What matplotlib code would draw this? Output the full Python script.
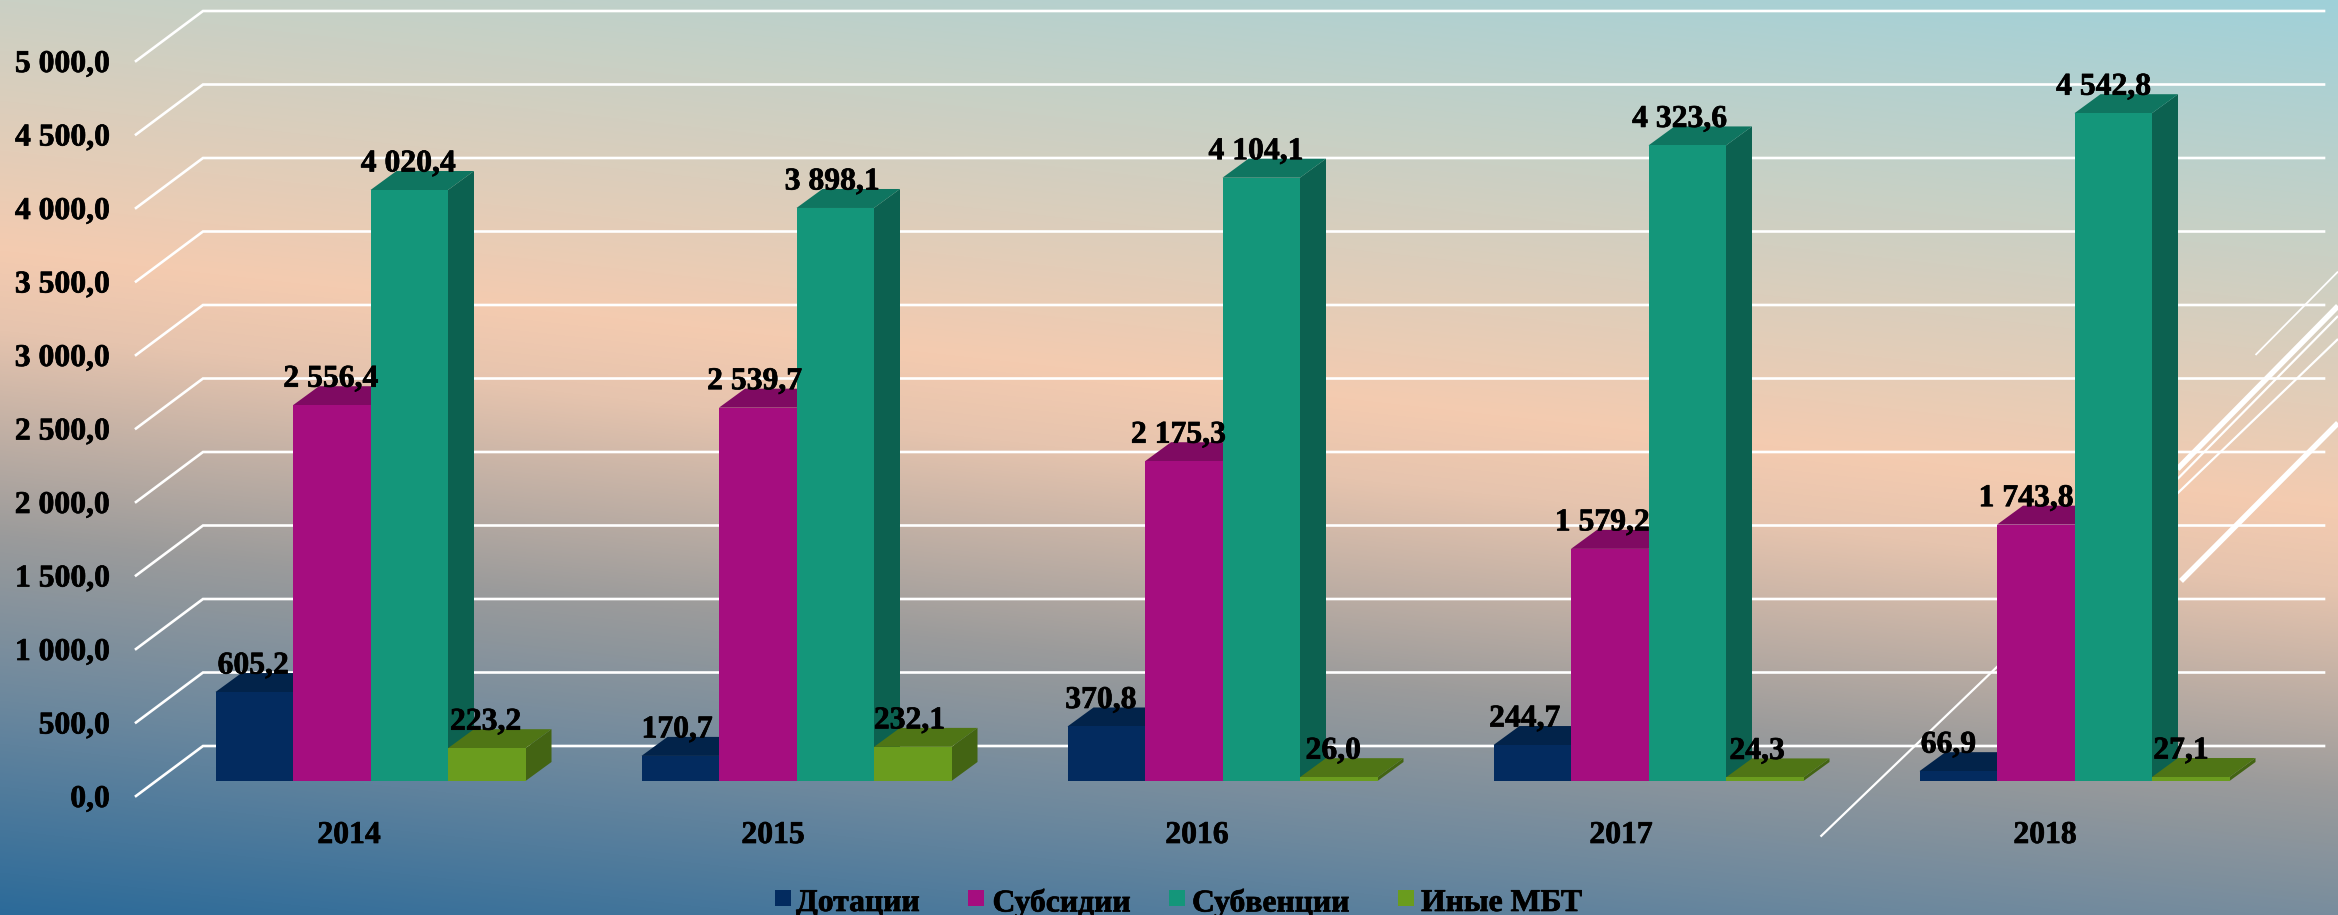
import numpy as np
import matplotlib
matplotlib.use("Agg")
import matplotlib.pyplot as plt
import matplotlib.patheffects as pe
from matplotlib.patches import Polygon, Rectangle
from matplotlib.transforms import Affine2D

years = ["2014", "2015", "2016", "2017", "2018"]
dotacii = [605.2, 170.7, 370.8, 244.7, 66.9]
subsidii = [2556.4, 2539.7, 2175.3, 1579.2, 1743.8]
subvencii = [4020.4, 3898.1, 4104.1, 4323.6, 4542.8]
inye = [223.2, 232.1, 26.0, 24.3, 27.1]
series_names = ["Дотации", "Субсидии", "Субвенции", "Иные МБТ"]
y_ticks = [0, 500, 1000, 1500, 2000, 2500, 3000, 3500, 4000, 4500, 5000]

W, H = 2338, 915
PX_Y = 0.147          # pixels per value unit
BASE_Y = 781.0        # baseline pixel row of bar fronts
GROUP = 426.0         # pixels per category
X0 = 215.5
BAR = 77.5 / GROUP
DX, DY = 26.0 / GROUP, 19.0 / PX_Y   # depth of the 3-D bars in data units

plt.rcParams["font.family"] = ["Liberation Serif", "DejaVu Serif"]
plt.rcParams["font.weight"] = "bold"
heavy = [pe.withStroke(linewidth=0.5, foreground="black")]

fig = plt.figure(figsize=(W / 100, H / 100), dpi=100)
ax = fig.add_axes([0, 0, 1, 1])
xlim = (-X0 / GROUP, (W - X0) / GROUP)
ylim = (-(H - BASE_Y) / PX_Y, BASE_Y / PX_Y)
ax.axis("off")

# background gradient
yy, xx = np.mgrid[0:H, 0:W]
u = yy - 0.11 * xx
stops = [-257, 0, 250, 330, 534, 700, 915]
cols = np.array([[0x9f, 0xd1, 0xd9], [0xca, 0xd0, 0xc4], [0xf4, 0xcb, 0xb0], [0xe6, 0xc4, 0xae],
                 [0x9b, 0x9b, 0x9b], [0x6c, 0x88, 0x9e], [0x2b, 0x6a, 0x99]]) / 255
img = np.dstack([np.interp(u, stops, cols[:, k]) for k in range(3)])
ax.imshow(img, extent=[xlim[0], xlim[1], ylim[0], ylim[1]], origin="upper", aspect="auto", zorder=0)
ax.set_xlim(*xlim)
ax.set_ylim(*ylim)

# pixel transform (top-left origin) for decorative strokes
px = Affine2D().scale(1, -1).translate(0, H)
for (x1, y1, x2, y2, lw) in [(1820.5, 836.6, 2338, 339, 1.6), (2181, 581, 2338, 423, 4.0),
                             (2177.5, 469, 2338, 306, 4.0), (2177.5, 479, 2338, 316, 1.6),
                             (2255.5, 355, 2338, 271.6, 1.3)]:
    ax.plot([x1, x2], [y1, y2], color="white", lw=lw, transform=px, zorder=2, solid_capstyle="butt")

# gridlines with floor-side stubs
x_front, x_back, x_end = 136, 203, 2324
for t in y_ticks:
    xf = (x_front - X0) / GROUP
    xb = (x_back - X0) / GROUP
    xe = (x_end - X0) / GROUP
    y_b = t + (781 - 746) / PX_Y
    y_f = t + (781 - 796) / PX_Y
    ax.plot([xf, xb, xe], [y_f, y_b, y_b], color="white", lw=1.9, zorder=1,
            solid_joinstyle="miter")
    lab = f"{t:,.1f}".replace(",", " ").replace(".", ",")
    ax.text((110 - X0) / GROUP, y_f, lab, ha="right", va="center_baseline", fontsize=22.8,
            color="black", zorder=6, path_effects=heavy)

# 3-D bars
front = ["#032B5F", "#A50D7F", "#14967A", "#6A9C1E"]
top = ["#02234A", "#7F0A62", "#0F7560", "#4F7515"]
side = ["#021F42", "#6E0854", "#0C6150", "#436413"]
series = [dotacii, subsidii, subvencii, inye]
for i in range(len(years)):
    for j, vals in enumerate(series):
        v = vals[i]
        x = i + j * BAR
        ax.add_patch(Polygon([(x + BAR, 0), (x + BAR + DX, DY), (x + BAR + DX, v + DY), (x + BAR, v)],
                             closed=True, fc=side[j], ec="none", zorder=3 + j * 0.1))
        ax.add_patch(Polygon([(x, v), (x + DX, v + DY), (x + BAR + DX, v + DY), (x + BAR, v)],
                             closed=True, fc=top[j], ec="none", zorder=3 + j * 0.1))
        ax.add_patch(Rectangle((x, 0), BAR, v, fc=front[j], ec="none", zorder=3.05 + j * 0.1))
for i in range(len(years)):
    for j, vals in enumerate(series):
        v = vals[i]
        lab = f"{v:,.1f}".replace(",", " ").replace(".", ",")
        ax.text(i + (j + 0.5) * BAR - (1 + 2.2 * i) / GROUP, v + 29.5 / PX_Y, lab,
                ha="center", va="center_baseline", fontsize=22.8, color="black", zorder=6,
                path_effects=heavy)

# category labels
for i, yr in enumerate(years):
    ax.text((349 - X0 + i * 424) / GROUP, (781 - 832) / PX_Y, yr, ha="center", va="center_baseline",
            fontsize=22.8, color="black", zorder=6, path_effects=heavy)

# legend
leg_sq = [775, 967.5, 1169, 1398]
leg_tx = [796, 992.5, 1192, 1421]
for n, sq, tx, c in zip(series_names, leg_sq, leg_tx, front):
    ax.add_patch(Rectangle((sq, 890), 16, 16, fc=c, ec="none", transform=px, zorder=6))
    ax.text(tx, 900, n, transform=px, ha="left", va="center_baseline", fontsize=22.8, color="black",
            zorder=6, path_effects=heavy)

fig.savefig("out.png", dpi=100)
